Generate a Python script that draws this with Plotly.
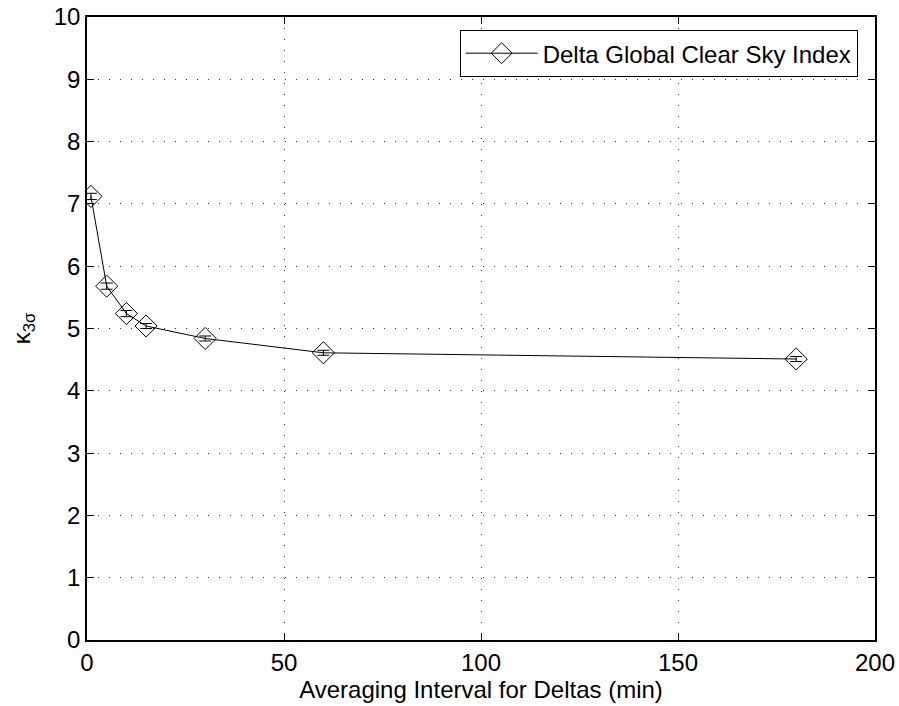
import plotly.graph_objects as go

intervals = [1, 5, 10, 15, 30, 60, 180]
kappa = [7.12, 5.68, 5.24, 5.04, 4.84, 4.61, 4.51]
kappa_err = [0.05, 0.05, 0.05, 0.04, 0.04, 0.04, 0.04]
series_name = "Delta Global Clear Sky Index"

FONT = "Liberation Sans, Arial, sans-serif"

fig = go.Figure()
fig.add_trace(go.Scatter(
    x=intervals, y=kappa, mode="lines+markers", name=series_name,
    line=dict(color="black", width=1),
    marker=dict(symbol="diamond-open", size=17, color="black", line=dict(width=1, color="black")),
    error_y=dict(type="data", array=kappa_err, visible=True, color="black", thickness=1, width=6),
))

axis_common = dict(
    showline=True, linecolor="black", linewidth=1.5, mirror="ticks",
    ticks="inside", ticklen=7, tickcolor="black", tickwidth=1,
    showgrid=True, gridcolor="#333", griddash="1px,10px", gridwidth=1,
    zeroline=False, automargin=False,
    tickfont=dict(family=FONT, size=24, color="black"),
)

fig.update_layout(
    width=899, height=706,
    paper_bgcolor="white", plot_bgcolor="white",
    margin=dict(l=87, r=24, t=17, b=66, autoexpand=False),
    font=dict(family=FONT, color="black", size=24),
    xaxis=dict(range=[0, 200], dtick=50,
               title=dict(text="Averaging Interval for Deltas (min)", standoff=2,
                          font=dict(family=FONT, size=24, color="black")),
               **axis_common),
    yaxis=dict(range=[0, 10], dtick=1,
               title=dict(text="κ<sub>3σ</sub>", standoff=16,
                          font=dict(family=FONT, size=24, color="black")),
               **axis_common),
    showlegend=True,
    legend=dict(x=0.978, y=0.979, xanchor="right", yanchor="top", bgcolor="white",
                bordercolor="black", borderwidth=1,
                font=dict(family=FONT, size=24, color="black"), itemwidth=72,
                tracegroupgap=0),
)

fig.write_html("out.html", config={"displayModeBar": False},
               post_script="document.body.style.margin='0';document.body.style.overflow='hidden';")
